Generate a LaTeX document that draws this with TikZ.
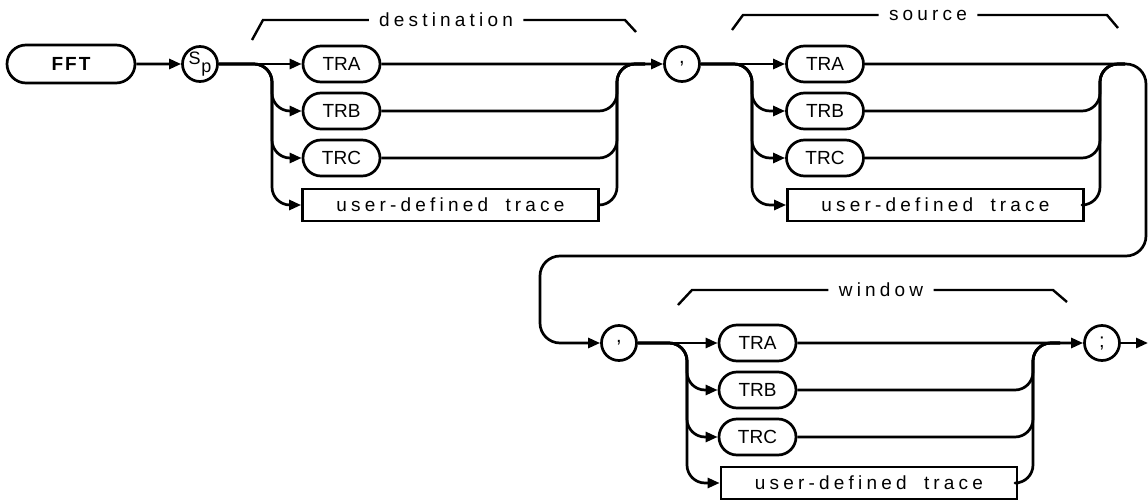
\documentclass[tikz,border=0pt]{standalone}
\usepackage{fontspec}
\setmainfont{Liberation Sans}
\newfontfamily\plotfont[LetterSpace=22]{Liberation Sans}
\usepackage{tikz}
\usetikzlibrary{arrows.meta,shapes.misc}
\tikzset{
  flowln/.style={line width=1.35pt, line join=round},
  arrln/.style={flowln, -{Triangle[length=6pt,width=5pt]}},
  bendln/.style={flowln, rounded corners=9pt},
  keybox/.style={draw, line width=1.35pt, rounded rectangle, minimum width=38.5pt, minimum height=18pt, inner sep=0pt, font=\fontsize{9.5}{10}\selectfont},
  litcirc/.style={draw, line width=1.35pt, circle, minimum size=17.5pt, inner sep=0pt, font=\fontsize{10}{10}\selectfont},
  parambox/.style={draw, line width=1.35pt, rectangle, minimum width=148pt, minimum height=16pt, inner sep=0pt, font=\fontsize{9.5}{10}\plotfont},
  grouplbl/.style={inner sep=5pt, font=\fontsize{9.5}{10}\plotfont},
  groupln/.style={line width=1.2pt},
}

\begin{document}
\begin{tikzpicture}[x=0.5pt, y=-0.5pt]
    \useasboundingbox (0,0) rectangle (1148,504);

    % destination
    \node[keybox, minimum width=64pt, minimum height=19pt, font=\fontsize{9.5}{10}\bfseries] (fft) at (71,64) {F\kern1pt F\kern1pt T};
    \node[litcirc, font=\fontsize{9}{10}\selectfont] (sp) at (200,64) {\raisebox{1.5pt}{S}\kern0.3pt\raisebox{-2.5pt}{p}};
    \node[keybox] (tra1) at (341.5,64) {TRA};
    \node[keybox] (trb1) at (341.5,111) {TRB};
    \node[keybox] (trc1) at (341.5,158) {TRC};
    \node[parambox] (udt1) at (450.5,205) {user-defined\hspace{4pt} trace};
    \node[litcirc] (cma1) at (682,64) {,};
    \coordinate (br1) at (272,64);
    \coordinate (mg1) at (617,64);
    \coordinate (jn1) at (645,64);
    \draw[arrln] (fft) -- (sp);
    \draw[arrln] (sp) -- (tra1);
    \foreach \n in {trb1,trc1,udt1}
      \draw[arrln, rounded corners=9pt] (sp.east) -| (br1 |- \n.west) -- (\n.west);
    \draw[arrln] (tra1) -- (cma1);
    \foreach \n in {trb1,trc1,udt1}
      \draw[bendln] (\n.east) -| (mg1) -- (jn1);
    \node[grouplbl] (dstlbl) at (446,20) {destination};
    \draw[groupln] (252,40) -- (263,20) -- (dstlbl.west);
    \draw[groupln] (dstlbl.east) -- (625,20) -- (636,32);

    % source
    \node[keybox] (tra2) at (825,64) {TRA};
    \node[keybox] (trb2) at (825,111) {TRB};
    \node[keybox] (trc2) at (825,158) {TRC};
    \node[parambox] (udt2) at (935.5,205) {user-defined\hspace{4pt} trace};
    \coordinate (br2) at (752,64);
    \coordinate (mg2) at (1100,64);
    \coordinate (jn2) at (1125,64);
    \draw[arrln] (cma1) -- (tra2);
    \foreach \n in {trb2,trc2,udt2}
      \draw[arrln, rounded corners=9pt] (cma1.east) -| (br2 |- \n.west) -- (\n.west);
    \foreach \n in {trb2,trc2,udt2}
      \draw[bendln] (\n.east) -| (mg2) -- (jn2);
    \node[grouplbl] (srclbl) at (928,15) {source};
    \draw[groupln] (732,30) -- (743,15) -- (srclbl.west);
    \draw[groupln] (srclbl.east) -- (1107,15) -- (1118,28);

    % window
    \node[litcirc] (cma2) at (619,343) {,};
    \node[keybox] (tra3) at (757.5,343) {TRA};
    \node[keybox] (trb3) at (757.5,390) {TRB};
    \node[keybox] (trc3) at (757.5,437) {TRC};
    \node[parambox] (udt3) at (869,483) {user-defined\hspace{4pt} trace};
    \node[litcirc] (semi) at (1102,343) {;};
    \coordinate (br3) at (687,343);
    \coordinate (mg3) at (1033,343);
    \coordinate (jn3) at (1060,343);
    \coordinate (exit) at (1148,343);
    \coordinate (lp1) at (1146,256);
    \coordinate (lp2) at (540,256);
    \draw[arrln, rounded corners=10pt] (tra2.east) -| (lp1) -- (lp2) |- (cma2.west);
    \draw[arrln] (cma2) -- (tra3);
    \foreach \n in {trb3,trc3,udt3}
      \draw[arrln, rounded corners=9pt] (cma2.east) -| (br3 |- \n.west) -- (\n.west);
    \draw[arrln] (tra3) -- (semi);
    \foreach \n in {trb3,trc3,udt3}
      \draw[bendln] (\n.east) -| (mg3) -- (jn3);
    \draw[arrln] (semi) -- (exit);
    \node[grouplbl] (wndlbl) at (881,290) {window};
    \draw[groupln] (678,305) -- (692,290) -- (wndlbl.west);
    \draw[groupln] (wndlbl.east) -- (1053,290) -- (1067,302);
\end{tikzpicture}
\end{document}
